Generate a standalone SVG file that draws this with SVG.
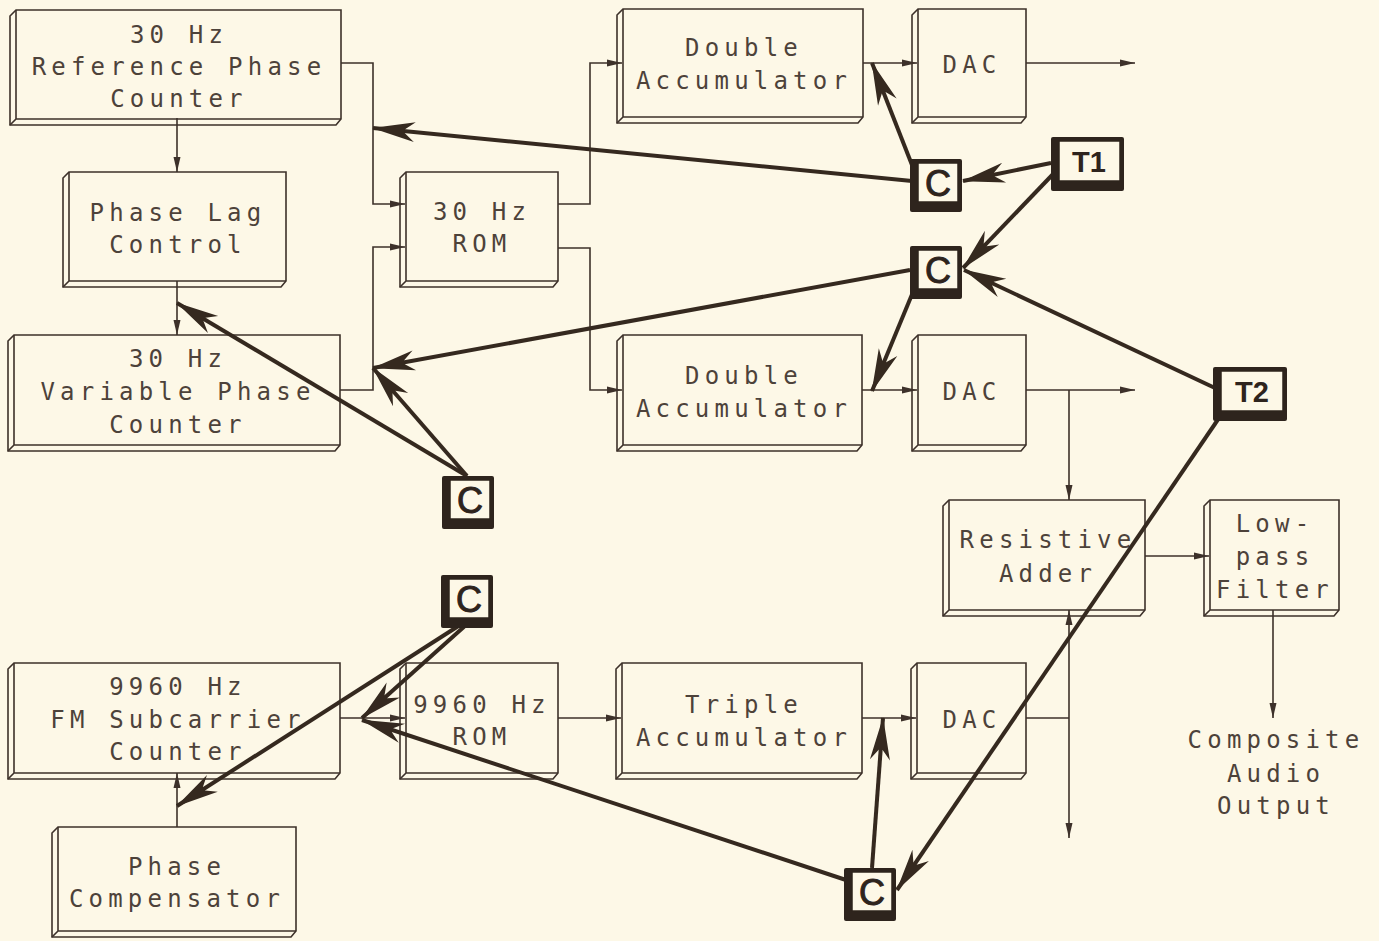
<svg xmlns="http://www.w3.org/2000/svg" width="1379" height="941" viewBox="0 0 1379 941">
<style>
.bg{fill:#fdf8e7}
.box polygon{fill:#fdf8e7;stroke:#3d312a;stroke-width:1.6}
.box path{fill:none;stroke:#3d312a;stroke-width:1.6}
.t{font-family:"DejaVu Sans Mono",monospace;font-size:24px;letter-spacing:5.2px;fill:#4d423a;text-anchor:middle}
.thin{fill:none;stroke:#3d312a;stroke-width:1.6;marker-end:url(#ah)}
.thin2{fill:none;stroke:#3d312a;stroke-width:1.6}
.thick{fill:none;stroke:#35291f;stroke-width:4;marker-end:url(#AH)}
.cb rect.o{fill:#2e241d}
.cb rect.f{fill:#fdf8e7;stroke:#2e241d;stroke-width:1.5}
.ct{font-family:"Liberation Sans",Arial,sans-serif;fill:#2e241d;stroke:#2e241d;stroke-width:1;text-anchor:middle}
.tt{font-family:"Liberation Sans",Arial,sans-serif;font-weight:bold;fill:#2e241d;text-anchor:middle}
</style>
<defs>
<marker id="ah" viewBox="-16 -5 17 10" markerWidth="17" markerHeight="10" refX="0" refY="0" orient="auto" markerUnits="userSpaceOnUse" overflow="visible">
<path d="M0,0 L-15,-3.5 L-15,3.5 Z" fill="#3d312a"/>
</marker>
<marker id="AH" viewBox="-44 -12 46 24" markerWidth="46" markerHeight="24" refX="0" refY="0" orient="auto" markerUnits="userSpaceOnUse" overflow="visible">
<path d="M1,0 L-42,-10 L-32,-2 L-32,2 L-42,10 Z" fill="#35291f"/>
</marker>
</defs>
<rect class="bg" x="0" y="0" width="1379" height="941"/>

<g id="ref-counter" class="box"><polygon points="16,10 341,10 341,119 336,125 10,125 10,16"/><path d="M16,10 V119 H341 M16,119 L10,125"/>
<text class="t" x="179" y="43">30 Hz</text><text class="t" x="179" y="75">Reference Phase</text><text class="t" x="179" y="107">Counter</text></g>

<g id="phase-lag" class="box"><polygon points="69,172 286,172 286,281 281,287 63,287 63,178"/><path d="M69,172 V281 H286 M69,281 L63,287"/>
<text class="t" x="178" y="221">Phase Lag</text><text class="t" x="178" y="253">Control</text></g>

<g id="rom30" class="box"><polygon points="406,172 558,172 558,281 553,287 400,287 400,178"/><path d="M406,172 V281 H558 M406,281 L400,287"/>
<text class="t" x="482" y="220">30 Hz</text><text class="t" x="482" y="252">ROM</text></g>

<g id="double-acc1" class="box"><polygon points="623,9 863,9 863,117 858,123 617,123 617,15"/><path d="M623,9 V117 H863 M623,117 L617,123"/>
<text class="t" x="744" y="56">Double</text><text class="t" x="744" y="89">Accumulator</text></g>

<g id="dac1" class="box"><polygon points="918,9 1026,9 1026,117 1021,123 912,123 912,15"/><path d="M918,9 V117 H1026 M918,117 L912,123"/>
<text class="t" x="972" y="73">DAC</text></g>

<g id="var-counter" class="box"><polygon points="14,335 340,335 340,445 335,451 8,451 8,341"/><path d="M14,335 V445 H340 M14,445 L8,451"/>
<text class="t" x="178" y="367">30 Hz</text><text class="t" x="178" y="400">Variable Phase</text><text class="t" x="178" y="433">Counter</text></g>

<g id="double-acc2" class="box"><polygon points="623,335 862,335 862,445 857,451 617,451 617,341"/><path d="M623,335 V445 H862 M623,445 L617,451"/>
<text class="t" x="744" y="384">Double</text><text class="t" x="744" y="417">Accumulator</text></g>

<g id="dac2" class="box"><polygon points="918,335 1026,335 1026,445 1021,451 912,451 912,341"/><path d="M918,335 V445 H1026 M918,445 L912,451"/>
<text class="t" x="972" y="400">DAC</text></g>

<g id="resistive-adder" class="box"><polygon points="949,500 1145,500 1145,610 1140,616 943,616 943,506"/><path d="M949,500 V610 H1145 M949,610 L943,616"/>
<text class="t" x="1048" y="548">Resistive</text><text class="t" x="1048" y="582">Adder</text></g>

<g id="lowpass" class="box"><polygon points="1210,500 1339,500 1339,610 1334,616 1204,616 1204,506"/><path d="M1210,500 V610 H1339 M1210,610 L1204,616"/>
<text class="t" x="1275" y="532">Low-</text><text class="t" x="1275" y="565">pass</text><text class="t" x="1275" y="598">Filter</text></g>

<g id="dac3" class="box"><polygon points="917,663 1026,663 1026,773 1021,779 911,779 911,669"/><path d="M917,663 V773 H1026 M917,773 L911,779"/>
<text class="t" x="972" y="728">DAC</text></g>

<g id="triple-acc" class="box"><polygon points="622,663 862,663 862,773 857,779 616,779 616,669"/><path d="M622,663 V773 H862 M622,773 L616,779"/>
<text class="t" x="744" y="713">Triple</text><text class="t" x="744" y="746">Accumulator</text></g>

<g id="rom9960" class="box"><polygon points="406,663 558,663 558,773 553,779 400,779 400,669"/><path d="M406,663 V773 H558 M406,773 L400,779"/>
<text class="t" x="482" y="713">9960 Hz</text><text class="t" x="482" y="745">ROM</text></g>

<g id="fm-counter" class="box"><polygon points="14,663 340,663 340,773 335,779 8,779 8,669"/><path d="M14,663 V773 H340 M14,773 L8,779"/>
<text class="t" x="178" y="695">9960 Hz</text><text class="t" x="178" y="728">FM Subcarrier</text><text class="t" x="178" y="760">Counter</text></g>

<g id="phase-comp" class="box"><polygon points="58,827 296,827 296,931 291,937 52,937 52,833"/><path d="M58,827 V931 H296 M58,931 L52,937"/>
<text class="t" x="177" y="875">Phase</text><text class="t" x="177" y="907">Compensator</text></g>

<g id="composite-output">
<text class="t" x="1276" y="748">Composite</text>
<text class="t" x="1276" y="782">Audio</text>
<text class="t" x="1276" y="814">Output</text>
</g>

<g id="connectors">
<path class="thin" d="M341,63 H373 V204 H405"/>
<path class="thin" d="M177,118 V172"/>
<path class="thin" d="M177,281 V335"/>
<path class="thin" d="M340,390 H373 V247 H405"/>
<path class="thin" d="M558,204 H590 V63 H622"/>
<path class="thin" d="M558,248 H590 V390 H622"/>
<path class="thin" d="M863,63 H917"/>
<path class="thin" d="M1026,63 H1135"/>
<path class="thin" d="M862,390 H917"/>
<path class="thin" d="M1026,390 H1135"/>
<path class="thin" d="M1069,390 V500"/>
<path class="thin" d="M1145,556 H1209"/>
<path class="thin" d="M1273,610 V718"/>
<path class="thin2" d="M1026,718 H1069"/>
<path class="thin" d="M1069,718 V838"/>
<path class="thin" d="M1069,718 V610"/>
<path class="thin" d="M558,718 H621"/>
<path class="thin" d="M862,718 H916"/>
<path class="thin" d="M340,718 H405"/>
<path class="thin" d="M177,827 V773"/>

<path class="thick" d="M912,181 L373,128"/>
<path class="thick" d="M912,165 L872,63"/>
<path class="thick" d="M1051,163 L963,181"/>
<path class="thick" d="M1057,170 L963,268"/>
<path class="thick" d="M1215,388 L964,270"/>
<path class="thick" d="M910,270 L373,368"/>
<path class="thick" d="M913,292 L872,391"/>
<path class="thick" d="M467,476 L177,303"/>
<path class="thick" d="M467,476 L373,368"/>
<path class="thick" d="M466,625 L362,718"/>
<path class="thick" d="M460,625 L177,806"/>
<path class="thick" d="M846,880 L362,720"/>
<path class="thick" d="M872,868 L883,718"/>
<path class="thick" d="M1219,418 L897,890"/>
</g>

<g id="c1" class="cb"><rect class="o" x="910" y="159" width="52" height="53" rx="2"/><rect class="f" x="918" y="163" width="40" height="39"/><text class="ct" x="938" y="196" font-size="36">C</text></g>
<g id="c2" class="cb"><rect class="o" x="910" y="246" width="52" height="53" rx="2"/><rect class="f" x="918" y="250" width="40" height="39"/><text class="ct" x="938" y="283" font-size="36">C</text></g>
<g id="t1" class="cb"><rect class="o" x="1051" y="137" width="73" height="54" rx="2"/><rect class="f" x="1059" y="141" width="61" height="40"/><text class="tt" x="1089" y="172" font-size="29">T1</text></g>
<g id="t2" class="cb"><rect class="o" x="1213" y="367" width="74" height="54" rx="2"/><rect class="f" x="1221" y="371" width="62" height="40"/><text class="tt" x="1252" y="402" font-size="29">T2</text></g>
<g id="c3" class="cb"><rect class="o" x="442" y="476" width="52" height="53" rx="2"/><rect class="f" x="450" y="480" width="40" height="39"/><text class="ct" x="470" y="513" font-size="36">C</text></g>
<g id="c4" class="cb"><rect class="o" x="441" y="575" width="52" height="53" rx="2"/><rect class="f" x="449" y="579" width="40" height="39"/><text class="ct" x="469" y="612" font-size="36">C</text></g>
<g id="c5" class="cb"><rect class="o" x="844" y="868" width="52" height="53" rx="2"/><rect class="f" x="852" y="872" width="40" height="39"/><text class="ct" x="872" y="905" font-size="36">C</text></g>
</svg>
